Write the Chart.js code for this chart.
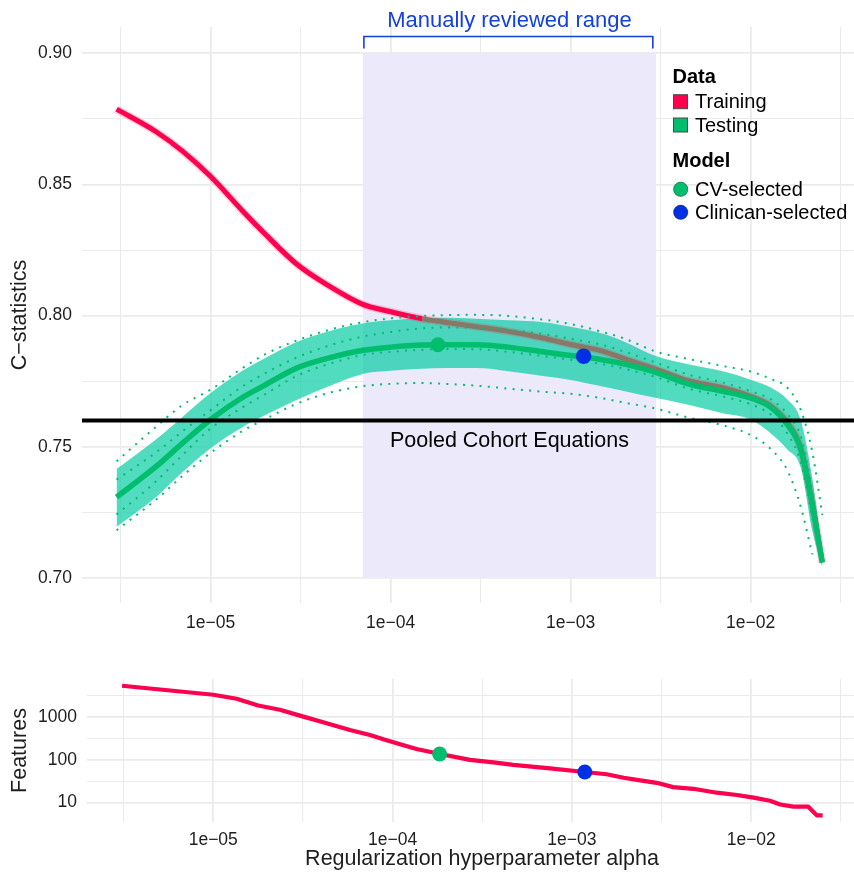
<!DOCTYPE html>
<html>
<head>
<meta charset="utf-8">
<script src="https://cdn.jsdelivr.net/npm/chart.js@4.4.1/dist/chart.umd.min.js"></script>
<style>
  html, body { margin: 0; padding: 0; background: #ffffff; }
  #wrap { position: relative; width: 854px; height: 876px; }
  canvas { position: absolute; left: 0; }
  #cstat { top: 0; }
  #feat { top: 640px; }
</style>
</head>
<body>
<div id="wrap">
  <canvas id="cstat" width="854" height="640"></canvas>
  <canvas id="feat" width="854" height="236"></canvas>
</div>
<script>
// Regularization path: alpha grid and C-statistics
const alpha = [3e-6, 5e-6, 7e-6, 1e-5, 1.5e-5, 2e-5, 3e-5, 4.5e-5, 7e-5, 1e-4, 1.5e-4, 2e-4, 3e-4, 4.5e-4,
               7e-4, 1e-3, 1.5e-3, 2e-3, 3e-3, 4.5e-3, 7e-3, 1e-2, 1.3e-2, 1.6e-2, 1.9e-2, 2.2e-2, 2.5e-2];
const trainC = [0.8787, 0.8700, 0.8626, 0.8530, 0.8400, 0.8312, 0.8197, 0.8115, 0.8043, 0.8015, 0.7988, 0.7975, 0.7958, 0.7940,
                0.7915, 0.7890, 0.7865, 0.7835, 0.7795, 0.7752, 0.7725, 0.7692, 0.7655, 0.7592, 0.7495, 0.7285, 0.7060];
const testC = [0.7308, 0.7426, 0.7515, 0.7604, 0.7688, 0.7735, 0.7800, 0.7838, 0.7868, 0.7880, 0.7888, 0.7889, 0.7889, 0.7880,
               0.7862, 0.7848, 0.7832, 0.7815, 0.7783, 0.7740, 0.7712, 0.7686, 0.7650, 0.7585, 0.7490, 0.7280, 0.7058];
const testBandHi = [0.7415, 0.7530, 0.7615, 0.7705, 0.7790, 0.7838, 0.7900, 0.7940, 0.7970, 0.7982, 0.7990, 0.7992, 0.7988, 0.7982,
                    0.7975, 0.7958, 0.7932, 0.7900, 0.7845, 0.7815, 0.7788, 0.7756, 0.7725, 0.7680, 0.7600, 0.7380, 0.7100];
const testBandLo = [0.7195, 0.7310, 0.7405, 0.7495, 0.7575, 0.7620, 0.7678, 0.7730, 0.7778, 0.7790, 0.7798, 0.7800, 0.7800, 0.7788,
                    0.7770, 0.7755, 0.7730, 0.7712, 0.7686, 0.7660, 0.7628, 0.7604, 0.7550, 0.7490, 0.7420, 0.7180, 0.7040];
const innerHi = [0.7375, 0.7480, 0.7560, 0.7640, 0.7730, 0.7780, 0.7840, 0.7885, 0.7920, 0.7938, 0.7952, 0.7955, 0.7954, 0.7945,
                 0.7930, 0.7912, 0.7888, 0.7862, 0.7820, 0.7775, 0.7745, 0.7712, 0.7680, 0.7625, 0.7540, 0.7330, 0.7080];
const innerLo = [0.7242, 0.7370, 0.7470, 0.7570, 0.7650, 0.7700, 0.7770, 0.7815, 0.7850, 0.7862, 0.7870, 0.7873, 0.7872, 0.7862,
                 0.7846, 0.7832, 0.7815, 0.7797, 0.7765, 0.7722, 0.7692, 0.7662, 0.7622, 0.7550, 0.7440, 0.7230, 0.7040];
const outerHi = [0.7445, 0.7578, 0.7660, 0.7718, 0.7800, 0.7852, 0.7905, 0.7945, 0.7975, 0.7990, 0.7999, 0.8002, 0.8003, 0.7999,
                 0.7985, 0.7968, 0.7938, 0.7912, 0.7862, 0.7835, 0.7808, 0.7787, 0.7758, 0.7725, 0.7640, 0.7480, 0.7240];
const outerLo = [0.7182, 0.7300, 0.7390, 0.7477, 0.7560, 0.7605, 0.7664, 0.7705, 0.7731, 0.7740, 0.7743, 0.7740, 0.7733, 0.7722,
                 0.7710, 0.7702, 0.7685, 0.7668, 0.7645, 0.7612, 0.7582, 0.7545, 0.7490, 0.7410, 0.7270, 0.7090, null];

// Number of features kept along the path
const featAlpha = [3.1e-6, 1e-5, 1.35e-5, 1.78e-5, 2.35e-5, 3.18e-5, 4.1e-5, 5.78e-5, 7.48e-5, 8.87e-5, 1.01e-4, 1.15e-4,
                   1.36e-4, 1.84e-4, 2.7e-4, 3.65e-4, 4.71e-4, 7.55e-4, 1.18e-3, 1.56e-3, 1.94e-3, 2.4e-3, 2.97e-3,
                   3.67e-3, 4.75e-3, 6.42e-3, 8.3e-3, 1.03e-2, 1.27e-2, 1.45e-2, 1.72e-2, 2.08e-2, 2.32e-2, 2.5e-2];
const features = [5440, 3350, 2700, 1870, 1490, 1030, 760, 500, 383, 303, 258, 219,
                  180, 137, 100, 87, 76, 63, 52, 46, 38, 33, 29,
                  23, 21, 17, 15, 13, 11, 9, 8, 8, 5, 5];

// Selected models
const cvAlpha = 1.83e-4, cvC = 0.7889, cvFeatures = 137;
const clinAlpha = 1.18e-3, clinC = 0.7845, clinFeatures = 52;

// Reference line and reviewed range
const pceC = 0.76;
const reviewRange = [7.0e-5, 2.98e-3];
const reviewC = [0.70, 0.90];
const bracketRange = [7.1e-5, 2.86e-3];

// Axis ticks
const xMajor = [1e-5, 1e-4, 1e-3, 1e-2];
const xMajorLabels = ['1e\u221205', '1e\u221204', '1e\u221203', '1e\u221202'];
const xMinor = [3.162e-6, 3.162e-5, 3.162e-4, 3.162e-3, 3.162e-2];
const cMajor = [0.70, 0.75, 0.80, 0.85, 0.90];
const cMajorLabels = ['0.70', '0.75', '0.80', '0.85', '0.90'];
const cMinor = [0.725, 0.775, 0.825, 0.875];
const fMajor = [10, 100, 1000];
const fMajorLabels = ['10', '100', '1000'];
const fMinor = [31.62, 316.2, 3162];

// Styling
const FONT = "'Liberation Sans', Arial, Helvetica, sans-serif";
const RED = '#ff004f';
const BROWN = '#8a7866';
const GREEN = '#00be6e';
const BLUE = '#0030e3';
const TEAL = 'rgba(20, 206, 168, 0.74)';
const LAVENDER = '#ece9fb';
const GRID = '#ebebeb';
const ANNOT_BLUE = '#1440e0';
const TEXT = '#1e1e1e';

Chart.defaults.font.family = FONT;
Chart.defaults.color = TEXT;

const pts = (xs, ys) => xs.map((x, i) => ({ x: x, y: ys[i] }));

function tickList(major, minor, lo, hi) {
  return major.concat(minor).filter(v => v >= lo && v <= hi).sort((a, b) => a - b).map(v => ({ value: v }));
}

function xAxis(min, max, height, pad) {
  return {
    type: 'logarithmic', min: min, max: max,
    afterBuildTicks: s => { s.ticks = tickList(xMajor, xMinor, min, max); },
    afterFit: s => { s.height = height; s.paddingLeft = 0; s.paddingRight = 0; },
    grid: { color: GRID, drawTicks: false, lineWidth: c => (c.tick && xMajor.includes(c.tick.value)) ? 1.8 : 1.1 },
    border: { display: false },
    ticks: {
      autoSkip: false, maxRotation: 0, minRotation: 0, padding: pad, color: TEXT, font: { size: 17.5 },
      callback: v => { const i = xMajor.indexOf(v); return i >= 0 ? xMajorLabels[i] : ''; }
    }
  };
}

function yAxis(type, min, max, width, major, labels, minor) {
  return {
    type: type, min: min, max: max,
    afterBuildTicks: s => { s.ticks = tickList(major, minor, min, max); },
    afterFit: s => { s.width = width; s.paddingTop = 0; s.paddingBottom = 0; },
    grid: { color: GRID, drawTicks: false, lineWidth: c => (c.tick && major.includes(c.tick.value)) ? 1.8 : 1.1 },
    border: { display: false },
    ticks: {
      autoSkip: false, padding: 10, color: TEXT, font: { size: 17.5 },
      callback: v => { const i = major.indexOf(v); return i >= 0 ? labels[i] : ''; }
    }
  };
}

const lineBase = { pointRadius: 0, fill: false, cubicInterpolationMode: 'monotone', borderCapStyle: 'butt' };
const dotted = (ys) => Object.assign({}, lineBase, {
  data: pts(alpha, ys), borderColor: GREEN, borderWidth: 2, borderDash: [2, 6.3], order: 3
});

// Training segments that lie inside the testing band take the blended tone
const inBand = i => trainC[i] <= testBandHi[i];

// Reviewed-range shading, reference line, annotations, legend and axis titles
const cstatDecor = {
  id: 'cstatDecor',
  beforeDatasetsDraw(chart) {
    const { ctx, scales: { x, y } } = chart;
    const x0 = x.getPixelForValue(reviewRange[0]), x1 = x.getPixelForValue(reviewRange[1]);
    const y0 = y.getPixelForValue(reviewC[1]), y1 = y.getPixelForValue(reviewC[0]);
    ctx.save();
    ctx.fillStyle = LAVENDER;
    ctx.fillRect(x0, y0, x1 - x0, y1 - y0);
    ctx.restore();
  },
  afterDatasetsDraw(chart) {
    const { ctx, chartArea, scales: { x, y } } = chart;
    ctx.save();
    // Pooled Cohort Equations reference
    const py = y.getPixelForValue(pceC);
    ctx.strokeStyle = '#000000';
    ctx.lineWidth = 4;
    ctx.beginPath();
    ctx.moveTo(chartArea.left, py);
    ctx.lineTo(chartArea.right, py);
    ctx.stroke();
    const midX = (x.getPixelForValue(reviewRange[0]) + x.getPixelForValue(reviewRange[1])) / 2;
    ctx.fillStyle = '#000000';
    ctx.font = '21.5px ' + FONT;
    ctx.textAlign = 'center';
    ctx.textBaseline = 'alphabetic';
    ctx.fillText('Pooled Cohort Equations', midX, py + 26.5);

    // Bracket over the reviewed range
    const b0 = x.getPixelForValue(bracketRange[0]), b1 = x.getPixelForValue(bracketRange[1]);
    ctx.strokeStyle = ANNOT_BLUE;
    ctx.lineWidth = 1.6;
    ctx.beginPath();
    ctx.moveTo(b0, 48.5);
    ctx.lineTo(b0, 36.5);
    ctx.lineTo(b1, 36.5);
    ctx.lineTo(b1, 48.5);
    ctx.stroke();
    ctx.fillStyle = ANNOT_BLUE;
    ctx.font = '22px ' + FONT;
    ctx.fillText('Manually reviewed range', midX, 27);

    // Legend
    ctx.textAlign = 'left';
    ctx.textBaseline = 'middle';
    ctx.fillStyle = '#000000';
    ctx.font = 'bold 20px ' + FONT;
    ctx.fillText('Data', 672.5, 77);
    ctx.fillText('Model', 672.5, 161.5);
    ctx.font = '20px ' + FONT;
    const squares = [['Training', RED, 101.7], ['Testing', GREEN, 125]];
    squares.forEach(([label, col, cy]) => {
      ctx.fillStyle = col;
      ctx.fillRect(673.5, cy - 7, 14, 14);
      ctx.strokeStyle = '#4a4a4a';
      ctx.lineWidth = 1;
      ctx.strokeRect(673.5, cy - 7, 14, 14);
      ctx.fillStyle = '#000000';
      ctx.fillText(label, 695, cy + 1);
    });
    const dots = [['CV-selected', GREEN, 189.3], ['Clinican-selected', BLUE, 212.3]];
    dots.forEach(([label, col, cy]) => {
      ctx.fillStyle = col;
      ctx.beginPath();
      ctx.arc(680.7, cy, 7.2, 0, Math.PI * 2);
      ctx.fill();
      ctx.strokeStyle = 'rgba(0,0,0,0.45)';
      ctx.lineWidth = 0.8;
      ctx.stroke();
      ctx.fillStyle = '#000000';
      ctx.fillText(label, 695, cy + 1);
    });

    // Y axis title
    ctx.translate(20, (chartArea.top + chartArea.bottom) / 2);
    ctx.rotate(-Math.PI / 2);
    ctx.textAlign = 'center';
    ctx.textBaseline = 'middle';
    ctx.fillStyle = TEXT;
    ctx.font = '21.5px ' + FONT;
    ctx.fillText('C\u2212statistics', 0, 0);
    ctx.restore();
  }
};

new Chart(document.getElementById('cstat'), {
  type: 'line',
  data: {
    datasets: [
      { label: 'CV-selected', data: [{ x: cvAlpha, y: cvC }], showLine: false, pointRadius: 7.5,
        pointBackgroundColor: GREEN, pointBorderWidth: 0, order: 1 },
      { label: 'Clinican-selected', data: [{ x: clinAlpha, y: clinC }], showLine: false, pointRadius: 7.8,
        pointBackgroundColor: BLUE, pointBorderWidth: 0, order: 1 },
      dotted(innerHi), dotted(innerLo), dotted(outerHi), dotted(outerLo),
      Object.assign({}, lineBase, { label: 'Testing', data: pts(alpha, testC), borderColor: GREEN, borderWidth: 5.5, order: 4 }),
      Object.assign({}, lineBase, {
        label: 'Training', data: pts(alpha, trainC), borderColor: RED, borderWidth: 5, order: 5,
        segment: { borderColor: c => (inBand(c.p0DataIndex) && inBand(c.p1DataIndex)) ? BROWN : RED }
      }),
      Object.assign({}, lineBase, { label: 'Training band', data: pts(alpha, trainC), borderColor: 'rgba(255, 40, 100, 0.22)', borderWidth: 8, order: 6 }),
      Object.assign({}, lineBase, { label: 'Testing band', data: pts(alpha, testBandHi), borderWidth: 0, borderColor: 'rgba(0,0,0,0)',
        fill: '+1', backgroundColor: TEAL, order: 10 }),
      Object.assign({}, lineBase, { label: 'Testing band low', data: pts(alpha, testBandLo), borderWidth: 0, borderColor: 'rgba(0,0,0,0)', order: 11 })
    ]
  },
  options: {
    responsive: false, animation: false, devicePixelRatio: 1,
    layout: { autoPadding: false, padding: { top: 27, left: 0, right: 0, bottom: 0 } },
    plugins: { legend: { display: false }, tooltip: { enabled: false } },
    scales: {
      x: xAxis(1.928e-6, 0.0375, 37, 10),
      y: yAxis('linear', 0.69047, 0.91002, 82, cMajor, cMajorLabels, cMinor)
    }
  },
  plugins: [cstatDecor]
});

const featDecor = {
  id: 'featDecor',
  afterDatasetsDraw(chart) {
    const { ctx, chartArea } = chart;
    ctx.save();
    ctx.fillStyle = TEXT;
    ctx.font = '21.5px ' + FONT;
    ctx.textAlign = 'center';
    ctx.textBaseline = 'alphabetic';
    ctx.fillText('Regularization hyperparameter alpha', 482, 225);
    ctx.translate(20, (chartArea.top + chartArea.bottom) / 2);
    ctx.rotate(-Math.PI / 2);
    ctx.textBaseline = 'middle';
    ctx.fillText('Features', 0, 0);
    ctx.restore();
  }
};

new Chart(document.getElementById('feat'), {
  type: 'line',
  data: {
    datasets: [
      { label: 'CV-selected', data: [{ x: cvAlpha, y: cvFeatures }], showLine: false, pointRadius: 7.5,
        pointBackgroundColor: GREEN, pointBorderWidth: 0, order: 1 },
      { label: 'Clinican-selected', data: [{ x: clinAlpha, y: clinFeatures }], showLine: false, pointRadius: 7.5,
        pointBackgroundColor: BLUE, pointBorderWidth: 0, order: 1 },
      Object.assign({}, lineBase, { label: 'Features', data: pts(featAlpha, features), borderColor: RED,
        borderWidth: 4.2, cubicInterpolationMode: 'default', tension: 0, borderJoinStyle: 'round', order: 2 })
    ]
  },
  options: {
    responsive: false, animation: false, devicePixelRatio: 1,
    layout: { autoPadding: false, padding: { top: 39, left: 0, right: 0, bottom: 0 } },
    plugins: { legend: { display: false }, tooltip: { enabled: false } },
    scales: {
      x: xAxis(1.977e-6, 0.0374, 54, 8),
      y: yAxis('logarithmic', 3.5, 7834, 87, fMajor, fMajorLabels, fMinor)
    }
  },
  plugins: [featDecor]
});
</script>
</body>
</html>
